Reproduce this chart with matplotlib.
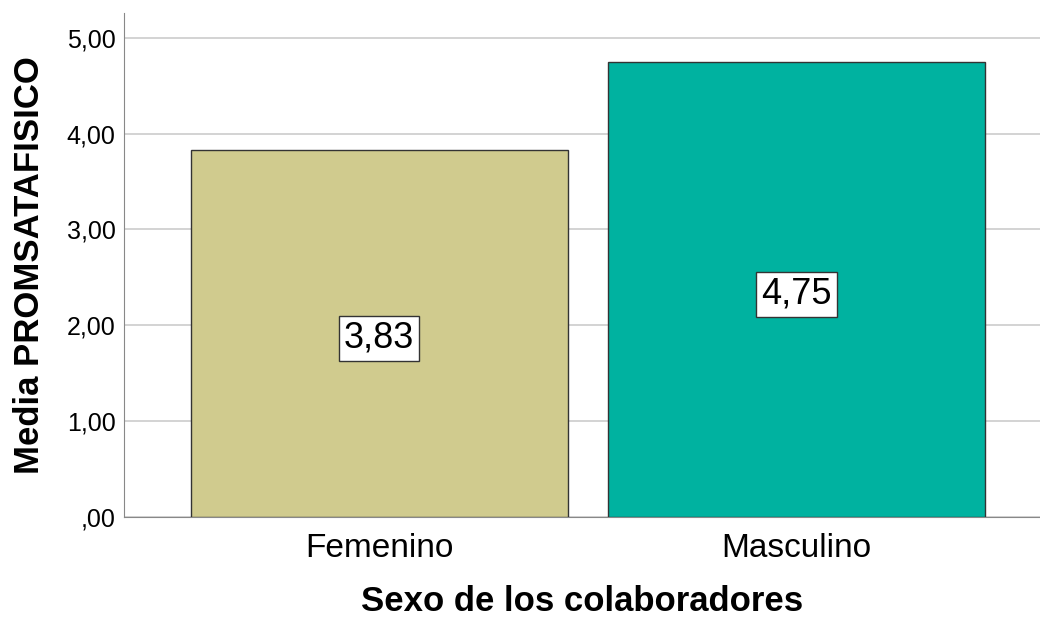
import matplotlib.pyplot as plt

categories = ["Femenino", "Masculino"]
means = [3.83, 4.75]
labels = ["3,83", "4,75"]
yticks = [0, 1, 2, 3, 4, 5]
ytick_labels = [",00", "1,00", "2,00", "3,00", "4,00", "5,00"]

plt.rcParams["font.family"] = ["Liberation Sans", "DejaVu Sans"]

fig = plt.figure(figsize=(10.4, 6.17), dpi=100)
ax = fig.add_axes([124 / 1040, 1 - 516.7 / 617, 1 - 124 / 1040, (516.7 - 13) / 617])

x = range(len(categories))
ax.bar(x, means, width=0.903, color=["#D0CB8E", "#00B2A0"],
       edgecolor="#333333", linewidth=1.0, zorder=3)

for i, (m, lab) in enumerate(zip(means, labels)):
    ax.text(i, m / 2 - 0.05, lab, ha="center", va="center", fontsize=26,
            bbox=dict(boxstyle="square,pad=0.14", facecolor="white",
                      edgecolor="#333333", linewidth=1.0), zorder=4)

ax.set_xlim(-0.611, 1.583)
ax.set_ylim(0, 5.26)
ax.set_yticks(yticks)
ax.set_yticklabels(ytick_labels, fontsize=18)
ax.set_xticks(list(x))
ax.set_xticklabels(categories, fontsize=24)
ax.tick_params(axis="both", length=0, pad=6)
ax.tick_params(axis="x", pad=12)

ax.grid(axis="y", color="#CCCCCC", linewidth=1.2, zorder=0)
for s in ["top", "right"]:
    ax.spines[s].set_visible(False)
ax.spines["left"].set_color("#888888")
ax.spines["bottom"].set_color("#888888")

ax.set_ylabel("Media PROMSATAFISICO", fontsize=25, fontweight="bold", labelpad=15)
ax.set_xlabel("Sexo de los colaboradores", fontsize=25, fontweight="bold", labelpad=15)

fig.savefig("out.png", dpi=100)
